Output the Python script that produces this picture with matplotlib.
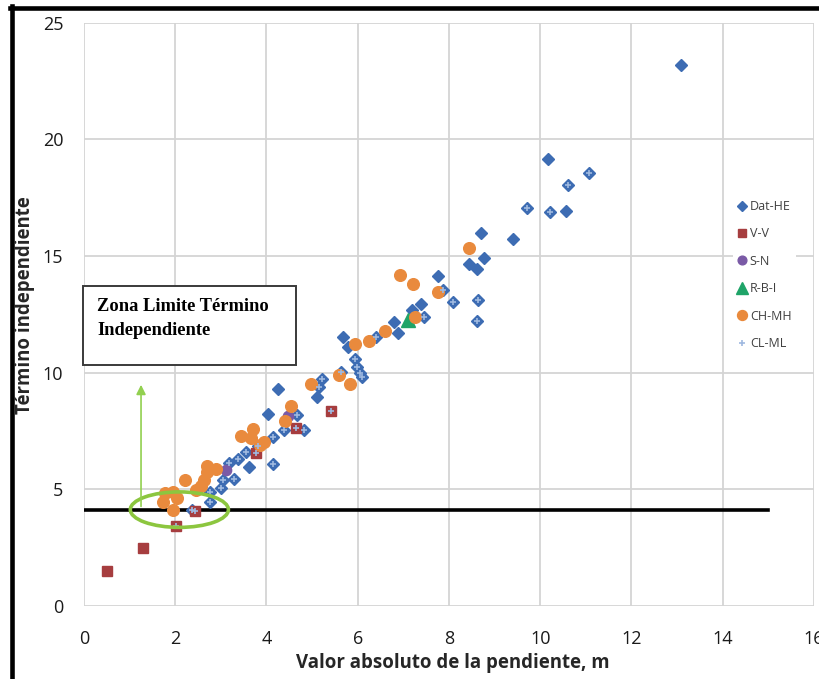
import matplotlib
matplotlib.use("Agg")
import matplotlib.pyplot as plt
from matplotlib.patches import Ellipse, Rectangle
from matplotlib.lines import Line2D

SANS = ["Liberation Sans Narrow", "Open Sans", "DejaVu Sans"]
SERIF = ["Liberation Serif", "DejaVu Serif"]
plt.rcParams["font.family"] = SANS

# ---- data -------------------------------------------------------------
dat_he_x = [13.09, 10.18, 11.07, 10.61, 9.71, 10.22, 10.57, 8.71, 9.41, 8.77,
            8.44, 8.62, 7.76, 7.87, 8.09, 8.64, 8.62, 7.39, 7.46, 7.19,
            6.80, 6.89, 6.40, 5.68, 5.79, 5.94, 5.99, 6.05, 6.10, 5.64,
            5.22, 5.15, 5.11, 4.25, 4.04, 4.67, 4.39, 4.82, 4.14, 3.82,
            3.55, 3.38, 3.62, 4.14, 3.18, 3.29, 3.05, 3.00, 2.76, 2.76, 2.37]
dat_he_y = [23.19, 19.16, 18.56, 18.05, 17.06, 16.89, 16.93, 15.99, 15.73, 14.92,
            14.66, 14.44, 14.14, 13.54, 13.03, 13.12, 12.22, 12.94, 12.39, 12.69,
            12.17, 11.70, 11.53, 11.53, 11.10, 10.59, 10.24, 9.99, 9.82, 10.03,
            9.73, 9.39, 8.96, 9.30, 8.23, 8.19, 7.54, 7.54, 7.24, 6.86,
            6.60, 6.30, 5.96, 6.09, 6.13, 5.44, 5.40, 5.06, 4.89, 4.46, 4.11]

vv_x = [0.50, 1.29, 2.02, 2.43, 3.77, 4.65, 5.42]
vv_y = [1.50, 2.49, 3.43, 4.07, 6.56, 7.63, 8.36]

sn_x = [3.11, 4.47]
sn_y = [5.83, 8.14]

rbi_x = [7.11]
rbi_y = [12.26]

chmh_x = [7.21, 6.93, 7.76, 8.44, 7.26, 6.60, 6.25, 5.94, 5.59, 5.83,
          4.98, 4.54, 4.41, 3.44, 3.71, 3.66, 3.95, 3.86, 2.70, 2.89,
          2.70, 2.63, 2.57, 2.21, 2.46, 1.78, 1.95, 2.04, 1.73, 1.95]
chmh_y = [13.80, 14.19, 13.46, 15.34, 12.39, 11.79, 11.36, 11.23, 9.90, 9.52,
          9.52, 8.57, 7.93, 7.29, 7.59, 7.20, 7.03, 6.90, 6.00, 5.87,
          5.74, 5.40, 5.14, 5.40, 4.97, 4.84, 4.89, 4.63, 4.46, 4.11]

clml_x = [11.07, 10.61, 9.71, 10.22, 7.87, 8.09, 8.64, 8.62, 7.46, 6.40,
          5.94, 5.99, 6.05, 6.10, 5.64, 5.22, 5.15, 4.67, 4.39, 4.82,
          4.14, 3.82, 3.55, 3.38, 4.14, 3.18, 3.29, 3.05, 3.00, 2.76,
          2.76, 2.37, 2.02, 2.43, 3.77, 4.65, 5.42]
clml_y = [18.56, 18.05, 17.06, 16.89, 13.54, 13.03, 13.12, 12.22, 12.39, 11.53,
          10.59, 10.24, 9.99, 9.82, 10.03, 9.73, 9.39, 8.19, 7.54, 7.54,
          7.24, 6.86, 6.60, 6.30, 6.09, 6.13, 5.44, 5.40, 5.06, 4.89,
          4.46, 4.11, 3.43, 4.07, 6.56, 7.63, 8.36]

limit_y = 4.1
limit_x_end = 15
x_ticks = [0, 2, 4, 6, 8, 10, 12, 14, 16]
y_ticks = [0, 5, 10, 15, 20, 25]

# ---- figure -----------------------------------------------------------
W, H = 820, 679
fig = plt.figure(figsize=(W / 100, H / 100), dpi=100)
ax = fig.add_axes([84 / W, 1 - 606 / H, 730 / W, (606 - 22.7) / H])

ax.set_xlim(0, 16)
ax.set_ylim(0, 25)
ax.set_xticks(x_ticks)
ax.set_yticks(y_ticks)
ax.grid(True, color="#d4d4d4", linewidth=1.3)
ax.set_axisbelow(True)
for s in ax.spines.values():
    s.set_visible(False)
ax.tick_params(length=0, labelsize=13, labelcolor="#1a1a1a")
ax.tick_params(axis="y", pad=15)
ax.tick_params(axis="x", pad=17)

# limit line
ax.plot([0, limit_x_end], [limit_y, limit_y], color="black", lw=2.6, zorder=2)

# series
ax.plot(dat_he_x, dat_he_y, ls="none", marker="D", ms=6.0, color="#3d6cb3",
        mec="#3d6cb3", label="Dat-HE", zorder=3)
ax.plot(vv_x, vv_y, ls="none", marker="s", ms=7.4, color="#a63d3f",
        mec="#a63d3f", label="V-V", zorder=4)
ax.plot(sn_x, sn_y, ls="none", marker="o", ms=7.4, color="#7a5aa6",
        mec="#7a5aa6", label="S-N", zorder=5)
ax.plot(rbi_x, rbi_y, ls="none", marker="^", ms=9.5, color="#1fa468",
        mec="#1fa468", label="R-B-I", zorder=6)
ax.plot(chmh_x, chmh_y, ls="none", marker="o", ms=8.4, color="#e98a3d",
        mec="#e98a3d", label="CH-MH", zorder=7)
ax.plot(clml_x, clml_y, ls="none", marker="+", ms=5.0, mew=1.2,
        color="#9fb9e0", label="CL-ML", zorder=8)

# highlighted zone
ax.add_patch(Ellipse((2.09, 4.13), 2.15, 1.52, fill=False, ec="#8cc63f",
                     lw=2.6, zorder=9))
ax.annotate("", xy=(1.25, 9.6), xytext=(1.25, 4.15),
            arrowprops=dict(arrowstyle="-|>", color="#92d050", lw=1.2,
                            mutation_scale=14), zorder=9)

leg = ax.legend(loc="center left", bbox_to_anchor=(733 / W, 1 - 275 / H),
                bbox_transform=fig.transFigure, frameon=True, fontsize=9,
                handlelength=0.7, handletextpad=0.25, labelspacing=1.15,
                borderpad=0.4, borderaxespad=0, markerscale=0.85)
leg.get_frame().set_facecolor("white")
leg.get_frame().set_edgecolor("none")
leg.get_frame().set_alpha(1)
for t in leg.get_texts():
    t.set_color("#404040")

# annotation box
fig.patches.append(Rectangle((83 / W, 1 - 365 / H), 213 / W, 79 / H,
                             transform=fig.transFigure, fill=True, fc="white",
                             ec="#3a3a3a", lw=1.4, zorder=10))
fig.text(97 / W, 1 - 307 / H, "Zona Limite Término", family=SERIF,
         weight="bold", fontsize=13.3, va="center", ha="left", zorder=11)
fig.text(97 / W, 1 - 330 / H, "Independiente", family=SERIF,
         weight="bold", fontsize=13.3, va="center", ha="left", zorder=11)

# axis titles
fig.text(453 / W, 1 - 663 / H, "Valor absoluto de la pendiente, m",
         weight="bold", fontsize=13.4, ha="center", va="center", color="#262626")
fig.text(25 / W, 1 - 305 / H, "Término independiente", weight="bold",
         fontsize=13.4, ha="center", va="center", rotation=90, color="#262626")

# outer frame (left and top edges)
fig.add_artist(Line2D([12.5 / W, 12.5 / W], [0, 1 - 6 / H], color="black",
                      lw=3.3, transform=fig.transFigure))
fig.add_artist(Line2D([10.5 / W, 1], [1 - 8 / H, 1 - 8 / H], color="black",
                      lw=3.3, transform=fig.transFigure))

fig.savefig("out.png", dpi=100)
